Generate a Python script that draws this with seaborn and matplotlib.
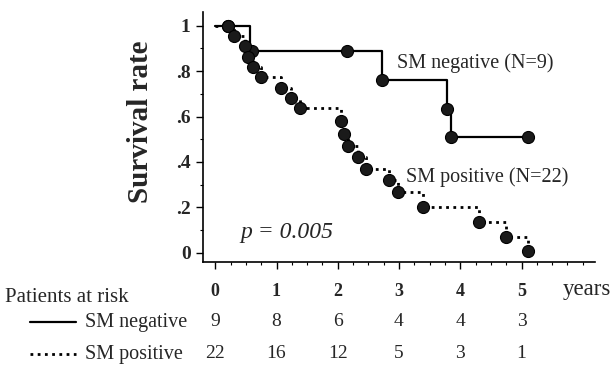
import numpy as np
import pandas as pd
import matplotlib
matplotlib.use('Agg')
import matplotlib.pyplot as plt
import matplotlib.transforms as mtransforms
from matplotlib.ticker import MultipleLocator
import seaborn as sns

# Kaplan-Meier steps
neg_time = [0, 0.57, 2.72, 3.79, 3.85, 5.1]
neg_surv = [1.0, 0.889, 0.762, 0.635, 0.508, 0.508]
neg_mark_time = [0.2, 0.6, 2.15, 2.72, 3.79, 3.85, 5.1]
neg_mark_surv = [1.0, 0.889, 0.889, 0.762, 0.635, 0.508, 0.508]

pos_time = [0, 0.3, 0.48, 0.54, 0.61, 0.74, 1.08, 1.24, 1.39, 2.05, 2.10,
            2.16, 2.33, 2.46, 2.84, 2.98, 3.39, 4.31, 4.74, 5.1]
pos_surv = [1.0, 0.955, 0.909, 0.864, 0.818, 0.773, 0.727, 0.682, 0.636, 0.58,
            0.525, 0.47, 0.42, 0.37, 0.32, 0.27, 0.20, 0.135, 0.068, 0.01]
pos_mark_time = [0.2] + pos_time[1:]
pos_mark_surv = [1.0] + pos_surv[1:]

years = [0, 1, 2, 3, 4, 5]
risk_neg = [9, 8, 6, 4, 4, 3]
risk_pos = [22, 16, 12, 5, 3, 1]
ytick_vals = [0, 0.2, 0.4, 0.6, 0.8, 1.0]
ytick_labels = ['0', '.2', '.4', '.6', '.8', '1']

sns.set_theme(style='ticks')
plt.rcParams['font.family'] = ['Liberation Serif', 'DejaVu Serif']

fig = plt.figure(figsize=(6.14, 3.68), dpi=100)
ax = fig.add_axes([203 / 614, 106 / 368, 392 / 614, 250 / 368])

dotted = (0, (1, 1.6))
sns.lineplot(x=neg_time, y=neg_surv, ax=ax, drawstyle='steps-post', estimator=None,
             color='black', lw=1.6)
sns.lineplot(x=pos_time, y=pos_surv, ax=ax, drawstyle='steps-post', estimator=None,
             color='black', lw=2.0, linestyle=dotted)
sns.scatterplot(x=neg_mark_time, y=neg_mark_surv, ax=ax, color='#1a1a1a', s=75,
                edgecolor='black', linewidth=0.8, zorder=3)
sns.scatterplot(x=pos_mark_time, y=pos_mark_surv, ax=ax, color='#1a1a1a', s=75,
                edgecolor='black', linewidth=0.8, zorder=3)

ax.set_xlim(-0.2, 6.2)
ax.set_ylim(-0.04, 1.06)
ax.set_yticks(ytick_vals)
ax.set_yticklabels(ytick_labels, fontsize=14, fontweight='bold')
ax.yaxis.set_minor_locator(MultipleLocator(0.1))
ax.set_xticks(years)
ax.set_xticklabels([str(y) for y in years], fontsize=13, fontweight='bold')
ax.xaxis.set_minor_locator(MultipleLocator(0.25))
ax.tick_params(axis='x', which='major', length=5, width=1, pad=10, color='black')
ax.tick_params(axis='x', which='minor', length=2.5, width=0.8, color='black')
ax.tick_params(axis='y', which='major', length=5, width=1, pad=4, color='black')
ax.tick_params(axis='y', which='minor', length=2.5, width=0.8, color='black')
for s in ['left', 'bottom']:
    ax.spines[s].set_linewidth(1.2)
    ax.spines[s].set_color('black')
sns.despine(ax=ax)

ax.set_ylabel('Survival rate', fontsize=21, fontweight='bold')
ax.yaxis.set_label_coords(-0.125, 0.56)

ax.text(2.97, 0.833, 'SM negative (N=9)', fontsize=14.5, va='center', ha='left')
ax.text(3.12, 0.333, 'SM positive (N=22)', fontsize=14.5, va='center', ha='left')
ax.text(0.41, 0.088, 'p = 0.005', fontsize=17, style='italic', va='center', ha='left')

# at-risk table below
tr = mtransforms.blended_transform_factory(ax.transData, fig.transFigure)
fig.text(563 / 614, 1 - 289 / 368, 'years', fontsize=16.5, ha='left', va='center')
fig.text(5 / 614, 1 - 298 / 368, 'Patients at risk', fontsize=15, ha='left', va='center')

row_y = [1 - 322 / 368, 1 - 354 / 368]
rows = [('SM negative', risk_neg, '-'), ('SM positive', risk_pos, dotted)]
for yy, (name, vals, ls) in zip(row_y, rows):
    fig.add_artist(plt.Line2D([30 / 614, 76 / 614], [yy, yy], color='black',
                              lw=1.6 if ls == '-' else 2.0, linestyle=ls,
                              transform=fig.transFigure))
    fig.text(85 / 614, yy, name, fontsize=14.5, ha='left', va='center')
    for x, v in zip(years, vals):
        ax.text(x, yy, str(v), transform=tr, fontsize=14, ha='center', va='center')

plt.savefig('out.png', dpi=100)
